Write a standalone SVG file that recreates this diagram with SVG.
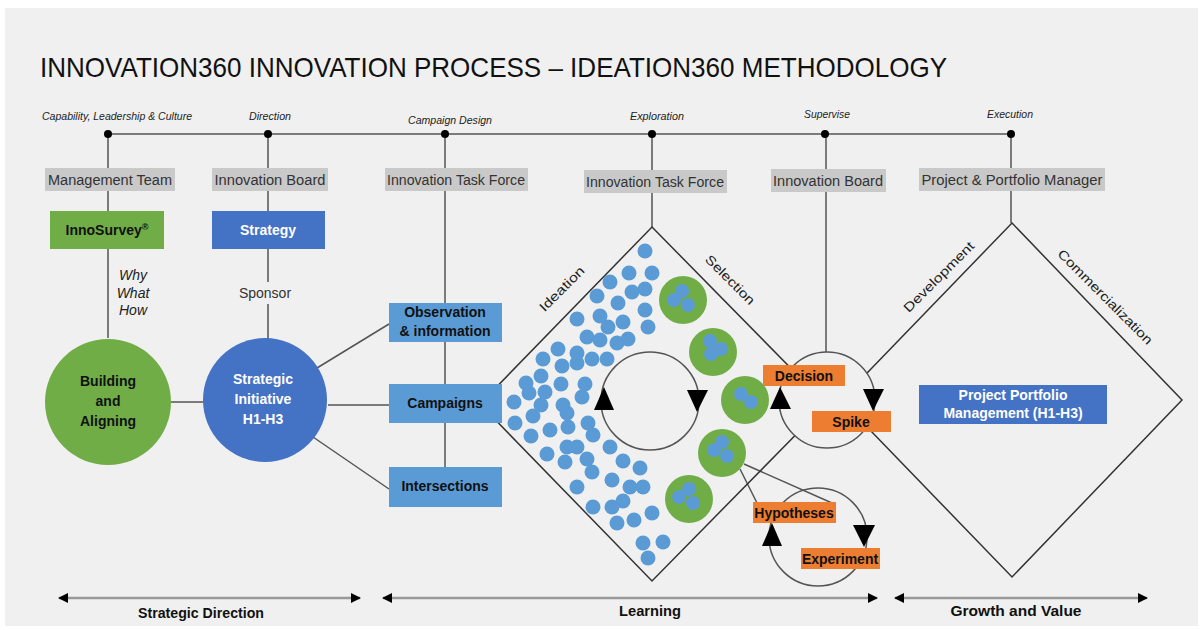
<svg xmlns="http://www.w3.org/2000/svg" width="1202" height="630" viewBox="0 0 1202 630">
<defs>
<style>
.ln{stroke:#555;stroke-width:1.5;fill:none}
.lbl{fill:#c9c9c9}
.lt{font-family:"Liberation Sans",Arial,sans-serif;font-size:14px;fill:#333;text-anchor:middle}
.it{font-family:"Liberation Sans",Arial,sans-serif;font-size:10px;font-style:italic;fill:#222;text-anchor:middle}
.bt{font-family:"Liberation Sans",Arial,sans-serif;font-size:14px;font-weight:bold;fill:#111;text-anchor:middle}
.wt{font-family:"Liberation Sans",Arial,sans-serif;font-size:14px;font-weight:bold;fill:#fff;text-anchor:middle}
.rt{font-family:"Liberation Sans",Arial,sans-serif;font-size:13px;fill:#222;text-anchor:middle}
.dot{fill:#5b9bd5}
.gc{fill:#70ad47}
.or{fill:#ed7d31}
.lb{fill:#5b9bd5}
.db{fill:#4472c4}
.tri{fill:#000}
.dia{fill:none;stroke:#333;stroke-width:1.5}
</style>
<marker id="ah" viewBox="0 0 10 10" refX="9" refY="5" markerWidth="4" markerHeight="4" orient="auto-start-reverse"><path d="M0,0 L10,5 L0,10 z" fill="#000"/></marker>
</defs>
<rect x="0" y="0" width="1202" height="630" fill="#fff"/>
<rect x="5" y="8" width="1193" height="618" fill="#f0f0f0"/>
<text x="40" y="77" font-family="'Liberation Sans',Arial,sans-serif" font-size="28" fill="#111" textLength="907" lengthAdjust="spacingAndGlyphs">INNOVATION360 INNOVATION PROCESS – IDEATION360 METHODOLOGY</text>

<g id="connectors">
<line class="ln" x1="108" y1="134" x2="1011" y2="134"/>
<line class="ln" x1="108" y1="134" x2="108" y2="168"/>
<line class="ln" x1="108" y1="191" x2="108" y2="211"/>
<line class="ln" x1="108" y1="249" x2="108" y2="338"/>
<line class="ln" x1="268" y1="134" x2="268" y2="168"/>
<line class="ln" x1="268" y1="191" x2="268" y2="211"/>
<line class="ln" x1="268" y1="249" x2="268" y2="282"/>
<line class="ln" x1="268" y1="304" x2="268" y2="339"/>
<line class="ln" x1="445" y1="134" x2="445" y2="168"/>
<line class="ln" x1="445" y1="191" x2="445" y2="467"/>
<line class="ln" x1="652" y1="134" x2="652" y2="170"/>
<line class="ln" x1="652" y1="193" x2="652" y2="227"/>
<line class="ln" x1="826" y1="134" x2="826" y2="169"/>
<line class="ln" x1="826" y1="192" x2="826" y2="352"/>
<line class="ln" x1="1011" y1="134" x2="1011" y2="168"/>
<line class="ln" x1="1011" y1="191" x2="1011" y2="223"/>
<line class="ln" x1="171" y1="402" x2="204" y2="402"/>
<line class="ln" x1="317" y1="368" x2="389" y2="324"/>
<line class="ln" x1="328" y1="405" x2="389" y2="405"/>
<line class="ln" x1="313" y1="437" x2="389" y2="489"/>
<line class="ln" x1="740" y1="469" x2="757" y2="503"/>
<line class="ln" x1="744" y1="464" x2="832" y2="503"/>
<line x1="59" y1="598" x2="360" y2="598" stroke="#999" stroke-width="2.5" marker-start="url(#ah)" marker-end="url(#ah)"/>
<line x1="383" y1="598" x2="877" y2="598" stroke="#999" stroke-width="2.5" marker-start="url(#ah)" marker-end="url(#ah)"/>
<line x1="895" y1="598" x2="1147" y2="598" stroke="#999" stroke-width="2.5" marker-start="url(#ah)" marker-end="url(#ah)"/>
</g>

<g id="junctions" fill="#000">
<circle cx="108" cy="134" r="4"/><circle cx="268" cy="134" r="4"/><circle cx="445" cy="134" r="4"/>
<circle cx="652" cy="134" r="4"/><circle cx="825" cy="134" r="4"/><circle cx="1011" cy="134" r="4"/>
</g>

<g id="phase-labels">
<text class="it" x="117" y="120" textLength="150" lengthAdjust="spacingAndGlyphs">Capability, Leadership &amp; Culture</text>
<text class="it" x="270" y="120" textLength="42" lengthAdjust="spacingAndGlyphs">Direction</text>
<text class="it" x="450" y="124" textLength="84" lengthAdjust="spacingAndGlyphs">Campaign Design</text>
<text class="it" x="657" y="120" textLength="54" lengthAdjust="spacingAndGlyphs">Exploration</text>
<text class="it" x="827" y="118" textLength="46" lengthAdjust="spacingAndGlyphs">Supervise</text>
<text class="it" x="1010" y="118" textLength="46" lengthAdjust="spacingAndGlyphs">Execution</text>
</g>

<g id="role-management-team"><rect class="lbl" x="45" y="168" width="130" height="23"/><text class="lt" x="110" y="185" textLength="124" lengthAdjust="spacingAndGlyphs">Management Team</text></g>
<g id="role-innovation-board-1"><rect class="lbl" x="212" y="168" width="116" height="23"/><text class="lt" x="270" y="185" textLength="111" lengthAdjust="spacingAndGlyphs">Innovation Board</text></g>
<g id="role-task-force-1"><rect class="lbl" x="385" y="168" width="143" height="23"/><text class="lt" x="456" y="185" textLength="138" lengthAdjust="spacingAndGlyphs">Innovation Task Force</text></g>
<g id="role-task-force-2"><rect class="lbl" x="584" y="170" width="143" height="23"/><text class="lt" x="655" y="187" textLength="138" lengthAdjust="spacingAndGlyphs">Innovation Task Force</text></g>
<g id="role-innovation-board-2"><rect class="lbl" x="771" y="169" width="115" height="23"/><text class="lt" x="828" y="186" textLength="110" lengthAdjust="spacingAndGlyphs">Innovation Board</text></g>
<g id="role-portfolio-manager"><rect class="lbl" x="919" y="168" width="186" height="23"/><text class="lt" x="1012" y="185" textLength="181" lengthAdjust="spacingAndGlyphs">Project &amp; Portfolio Manager</text></g>

<g id="innosurvey"><rect class="gc" x="50" y="211" width="114" height="38"/><text class="bt" x="107" y="235">InnoSurvey<tspan font-size="9" dy="-5">®</tspan></text></g>
<g id="strategy"><rect class="db" x="212" y="211" width="113" height="38"/><text class="wt" x="268" y="235">Strategy</text></g>
<g id="why-what-how" font-family="'Liberation Sans',Arial,sans-serif" font-size="14" font-style="italic" fill="#222" text-anchor="middle">
<text x="133" y="280">Why</text><text x="133" y="298">What</text><text x="133" y="315">How</text>
</g>
<text id="sponsor" class="lt" x="265" y="298" font-size="14">Sponsor</text>

<g id="building-aligning"><circle class="gc" cx="108" cy="402" r="63"/>
<text class="bt" x="108" y="386">Building</text><text class="bt" x="108" y="406">and</text><text class="bt" x="108" y="426">Aligning</text></g>
<g id="strategic-initiative"><circle class="db" cx="265" cy="400" r="62"/>
<text class="wt" x="263" y="384">Strategic</text><text class="wt" x="263" y="404">Initiative</text><text class="wt" x="263" y="424">H1-H3</text></g>

<g id="learning-diamond">
<polygon class="dia" points="652,227 826,404 652,581 480,404"/>
<text class="rt" transform="translate(565,292) rotate(-45)" textLength="58" lengthAdjust="spacingAndGlyphs">Ideation</text>
<text class="rt" transform="translate(727,283) rotate(45)" textLength="64" lengthAdjust="spacingAndGlyphs">Selection</text>
</g>
<g id="growth-diamond">
<polygon class="dia" points="1012,223 1182,400 1012,577 841,400"/>
<text class="rt" font-size="14" transform="translate(942,280) rotate(-45)" textLength="94" lengthAdjust="spacingAndGlyphs">Development</text>
<text class="rt" font-size="14" transform="translate(1102,300) rotate(45)" textLength="128" lengthAdjust="spacingAndGlyphs">Commercialization</text>
</g>

<g id="observation"><rect class="lb" x="389" y="303" width="113" height="39"/><text class="bt" x="445" y="317">Observation</text><text class="bt" x="445" y="336">&amp; information</text></g>
<g id="campaigns"><rect class="lb" x="389" y="384" width="113" height="39"/><text class="bt" x="445" y="408">Campaigns</text></g>
<g id="intersections"><rect class="lb" x="389" y="467" width="113" height="40"/><text class="bt" x="445" y="491">Intersections</text></g>

<g id="ideas">
<circle class="dot" cx="645" cy="251" r="7.5"/><circle class="dot" cx="629" cy="273" r="7.5"/><circle class="dot" cx="652" cy="273" r="7.5"/>
<circle class="dot" cx="610" cy="282" r="7.5"/><circle class="dot" cx="632" cy="292" r="7.5"/><circle class="dot" cx="645" cy="289" r="7.5"/>
<circle class="dot" cx="597" cy="296" r="7.5"/><circle class="dot" cx="618" cy="303" r="7.5"/><circle class="dot" cx="645" cy="310" r="7.5"/>
<circle class="dot" cx="577" cy="319" r="7.5"/><circle class="dot" cx="600" cy="316" r="7.5"/><circle class="dot" cx="608" cy="327" r="7.5"/>
<circle class="dot" cx="623" cy="322" r="7.5"/><circle class="dot" cx="648" cy="327" r="7.5"/><circle class="dot" cx="587" cy="337" r="7.5"/>
<circle class="dot" cx="600" cy="340" r="7.5"/><circle class="dot" cx="617" cy="343" r="7.5"/><circle class="dot" cx="628" cy="339" r="7.5"/>
<circle class="dot" cx="558" cy="349" r="7.5"/><circle class="dot" cx="577" cy="353" r="7.5"/><circle class="dot" cx="592" cy="359" r="7.5"/>
<circle class="dot" cx="607" cy="359" r="7.5"/><circle class="dot" cx="543" cy="359" r="7.5"/><circle class="dot" cx="562" cy="366" r="7.5"/>
<circle class="dot" cx="577" cy="363" r="7.5"/><circle class="dot" cx="541" cy="376" r="7.5"/><circle class="dot" cx="526" cy="383" r="7.5"/>
<circle class="dot" cx="561" cy="384" r="7.5"/><circle class="dot" cx="585" cy="384" r="7.5"/><circle class="dot" cx="529" cy="393" r="7.5"/>
<circle class="dot" cx="545" cy="392" r="7.5"/><circle class="dot" cx="582" cy="397" r="7.5"/><circle class="dot" cx="514" cy="402" r="7.5"/>
<circle class="dot" cx="541" cy="405" r="7.5"/><circle class="dot" cx="563" cy="405" r="7.5"/><circle class="dot" cx="567" cy="413" r="7.5"/>
<circle class="dot" cx="533" cy="416" r="7.5"/><circle class="dot" cx="515" cy="423" r="7.5"/><circle class="dot" cx="550" cy="430" r="7.5"/>
<circle class="dot" cx="568" cy="427" r="7.5"/><circle class="dot" cx="588" cy="423" r="7.5"/><circle class="dot" cx="593" cy="435" r="7.5"/>
<circle class="dot" cx="531" cy="436" r="7.5"/><circle class="dot" cx="567" cy="447" r="7.5"/><circle class="dot" cx="577" cy="447" r="7.5"/>
<circle class="dot" cx="547" cy="454" r="7.5"/><circle class="dot" cx="610" cy="447" r="7.5"/><circle class="dot" cx="565" cy="462" r="7.5"/>
<circle class="dot" cx="587" cy="459" r="7.5"/><circle class="dot" cx="623" cy="461" r="7.5"/><circle class="dot" cx="640" cy="468" r="7.5"/>
<circle class="dot" cx="592" cy="472" r="7.5"/><circle class="dot" cx="577" cy="487" r="7.5"/><circle class="dot" cx="612" cy="480" r="7.5"/>
<circle class="dot" cx="630" cy="487" r="7.5"/><circle class="dot" cx="643" cy="487" r="7.5"/><circle class="dot" cx="623" cy="501" r="7.5"/>
<circle class="dot" cx="612" cy="507" r="7.5"/><circle class="dot" cx="593" cy="507" r="7.5"/><circle class="dot" cx="652" cy="513" r="7.5"/>
<circle class="dot" cx="617" cy="523" r="7.5"/><circle class="dot" cx="634" cy="520" r="7.5"/><circle class="dot" cx="643" cy="543" r="7.5"/>
<circle class="dot" cx="663" cy="542" r="7.5"/><circle class="dot" cx="648" cy="558" r="7.5"/>
</g>

<g id="selected-ideas">
<circle class="gc" cx="683" cy="300" r="24"/><circle class="dot" cx="682" cy="291" r="7"/><circle class="dot" cx="674" cy="300" r="7"/><circle class="dot" cx="688" cy="305" r="7"/>
<circle class="gc" cx="713" cy="352" r="24"/><circle class="dot" cx="710" cy="341" r="7"/><circle class="dot" cx="721" cy="349" r="7"/><circle class="dot" cx="711" cy="354" r="7"/>
<circle class="gc" cx="745" cy="400" r="24"/><circle class="dot" cx="741" cy="394" r="7"/><circle class="dot" cx="751" cy="402" r="7"/>
<circle class="gc" cx="722" cy="453" r="24"/><circle class="dot" cx="722" cy="442" r="7"/><circle class="dot" cx="714" cy="450" r="7"/><circle class="dot" cx="727" cy="456" r="7"/>
<circle class="gc" cx="689" cy="499" r="24"/><circle class="dot" cx="689" cy="489" r="7"/><circle class="dot" cx="679" cy="497" r="7"/><circle class="dot" cx="693" cy="503" r="7"/>
</g>

<g id="ideation-loop">
<circle cx="650" cy="401" r="49" fill="none" stroke="#555" stroke-width="1.5"/>
<polygon class="tri" points="604,387 594,410 614,410"/>
<polygon class="tri" points="687,390 708,390 697,412"/>
</g>

<g id="decision-loop">
<circle cx="827" cy="400" r="48" fill="#f0f0f0" stroke="#555" stroke-width="1.5"/>
<polygon class="tri" points="780,387 770,409 791,409"/>
<polygon class="tri" points="863,389 884,389 873,411"/>
</g>
<g id="decision"><rect class="or" x="763" y="365" width="82" height="21"/><text class="bt" x="804" y="381">Decision</text></g>
<g id="spike"><rect class="or" x="812" y="411" width="79" height="21"/><text class="bt" x="851" y="427">Spike</text></g>

<g id="experiment-loop">
<circle cx="818" cy="537" r="49" fill="none" stroke="#555" stroke-width="1.5"/>
<polygon class="tri" points="772,523 762,546 782,546"/>
<polygon class="tri" points="853,525 875,525 864,547"/>
</g>
<g id="hypotheses"><rect class="or" x="753" y="502" width="83" height="21"/><text class="bt" x="794" y="518">Hypotheses</text></g>
<g id="experiment"><rect class="or" x="801" y="548" width="79" height="21"/><text class="bt" x="840" y="564">Experiment</text></g>

<g id="portfolio"><rect class="db" x="919" y="385" width="188" height="39"/><text class="wt" x="1013" y="400">Project Portfolio</text><text class="wt" x="1013" y="418">Management (H1-H3)</text></g>

<g id="stages">
<text class="bt" x="201" y="618" textLength="126" lengthAdjust="spacingAndGlyphs">Strategic Direction</text>
<text class="bt" x="650" y="616" textLength="62" lengthAdjust="spacingAndGlyphs">Learning</text>
<text class="bt" x="1016" y="616" textLength="131" lengthAdjust="spacingAndGlyphs">Growth and Value</text>
</g>
</svg>
